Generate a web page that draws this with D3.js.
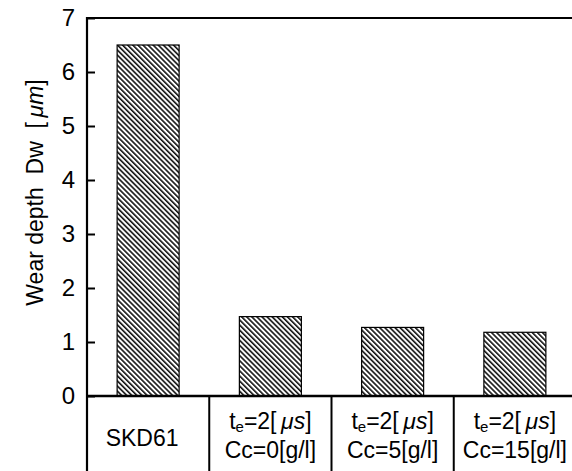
<!DOCTYPE html>
<html>
<head>
<meta charset="utf-8">
<script src="https://cdn.jsdelivr.net/npm/d3@7"></script>
<style>
  html, body { margin: 0; padding: 0; background: #fff; }
  svg { display: block; }
  text { font-family: "Liberation Sans", Arial, Helvetica, sans-serif; fill: #000; }
</style>
</head>
<body>
<svg id="chart" width="572" height="471"></svg>
<script>
// ---- data ----
const categories = ["SKD61", "Cc=0", "Cc=5", "Cc=15"];
const wearDepth = [6.5, 1.47, 1.27, 1.18];
const labelLine1 = [null, "2", "2", "2"];      // t_e value [μs]
const labelLine2 = [null, "0", "5", "15"];     // Cc value [g/l]
const yTicks = [0, 1, 2, 3, 4, 5, 6, 7];

// ---- layout ----
const W = 572, H = 471;
const mLeft = 87, mTop = 18, mBottom = 396;
const svg = d3.select("#chart");

const defs = svg.append("defs");
const pat = defs.append("pattern")
  .attr("id", "hatch")
  .attr("patternUnits", "userSpaceOnUse")
  .attr("width", 3.6).attr("height", 3.6)
  .attr("patternTransform", "rotate(-45)");
pat.append("rect").attr("width", 3.6).attr("height", 3.6).attr("fill", "#fff");
pat.append("line").attr("x1", 0.8).attr("y1", 0).attr("x2", 0.8).attr("y2", 3.6)
  .attr("stroke", "#111").attr("stroke-width", 1.6);

const xs = d3.scaleBand().domain(categories).range([mLeft, 576]);
const y = d3.scaleLinear().domain([0, 7]).range([mBottom, mTop]);

// bars
svg.append("g").selectAll("rect").data(categories).join("rect")
  .attr("x", d => xs(d) + xs.bandwidth() / 2 - 31)
  .attr("width", 62)
  .attr("y", (d, i) => y(wearDepth[i]))
  .attr("height", (d, i) => y(0) - y(wearDepth[i]))
  .attr("fill", "url(#hatch)")
  .attr("stroke", "#000").attr("stroke-width", 1.2);

// y axis
const yAxis = d3.axisLeft(y).tickValues(yTicks).tickFormat(d3.format("d"))
  .tickSize(-8).tickPadding(12);
const gy = svg.append("g").attr("transform", `translate(${mLeft},0)`).call(yAxis);
gy.select(".domain").remove();
gy.selectAll(".tick line").attr("stroke", "#000").attr("stroke-width", 2);
gy.selectAll(".tick text").style("font-size", "24px").attr("font-family", null);

// frame lines
svg.append("line").attr("x1", mLeft).attr("x2", mLeft).attr("y1", mTop - 1).attr("y2", H)
  .attr("stroke", "#000").attr("stroke-width", 2.2);
svg.append("line").attr("x1", mLeft).attr("x2", W).attr("y1", y(7)).attr("y2", y(7))
  .attr("stroke", "#000").attr("stroke-width", 2);
svg.append("line").attr("x1", mLeft).attr("x2", W).attr("y1", y(0)).attr("y2", y(0))
  .attr("stroke", "#000").attr("stroke-width", 2.6);

// table dividers
svg.append("g").selectAll("line").data(categories.slice(1)).join("line")
  .attr("x1", d => xs(d)).attr("x2", d => xs(d))
  .attr("y1", mBottom).attr("y2", H)
  .attr("stroke", "#000").attr("stroke-width", 2);

// table labels
const gl = svg.append("g").style("font-size", "23px");
categories.forEach((c, i) => {
  const cx = xs(c) + xs.bandwidth() / 2;
  if (labelLine1[i] === null) {
    gl.append("text").attr("x", cx - 6).attr("y", 446).attr("text-anchor", "middle").text(c);
  } else {
    const t1 = gl.append("text").attr("x", cx).attr("y", 429).attr("text-anchor", "middle");
    t1.append("tspan").text("t");
    t1.append("tspan").attr("dy", 3).style("font-size", "15px").text("e");
    t1.append("tspan").attr("dy", -3).text("=" + labelLine1[i] + "[\u2009");
    t1.append("tspan").style("font-style", "italic").text("\u03bcs");
    t1.append("tspan").text("]");
    gl.append("text").attr("x", cx).attr("y", 458).attr("text-anchor", "middle")
      .text("Cc=" + labelLine2[i] + "[g/l]");
  }
});

// y label
const yl = svg.append("text")
  .attr("transform", `translate(43,${(83 + 302) / 2}) rotate(-90)`)
  .attr("text-anchor", "middle").style("font-size", "23px");
yl.append("tspan").text("Wear depth\u00a0\u00a0Dw\u00a0\u00a0[\u2009");
yl.append("tspan").style("font-style", "italic").text("\u03bcm");
yl.append("tspan").text("]");
</script>
</body>
</html>
